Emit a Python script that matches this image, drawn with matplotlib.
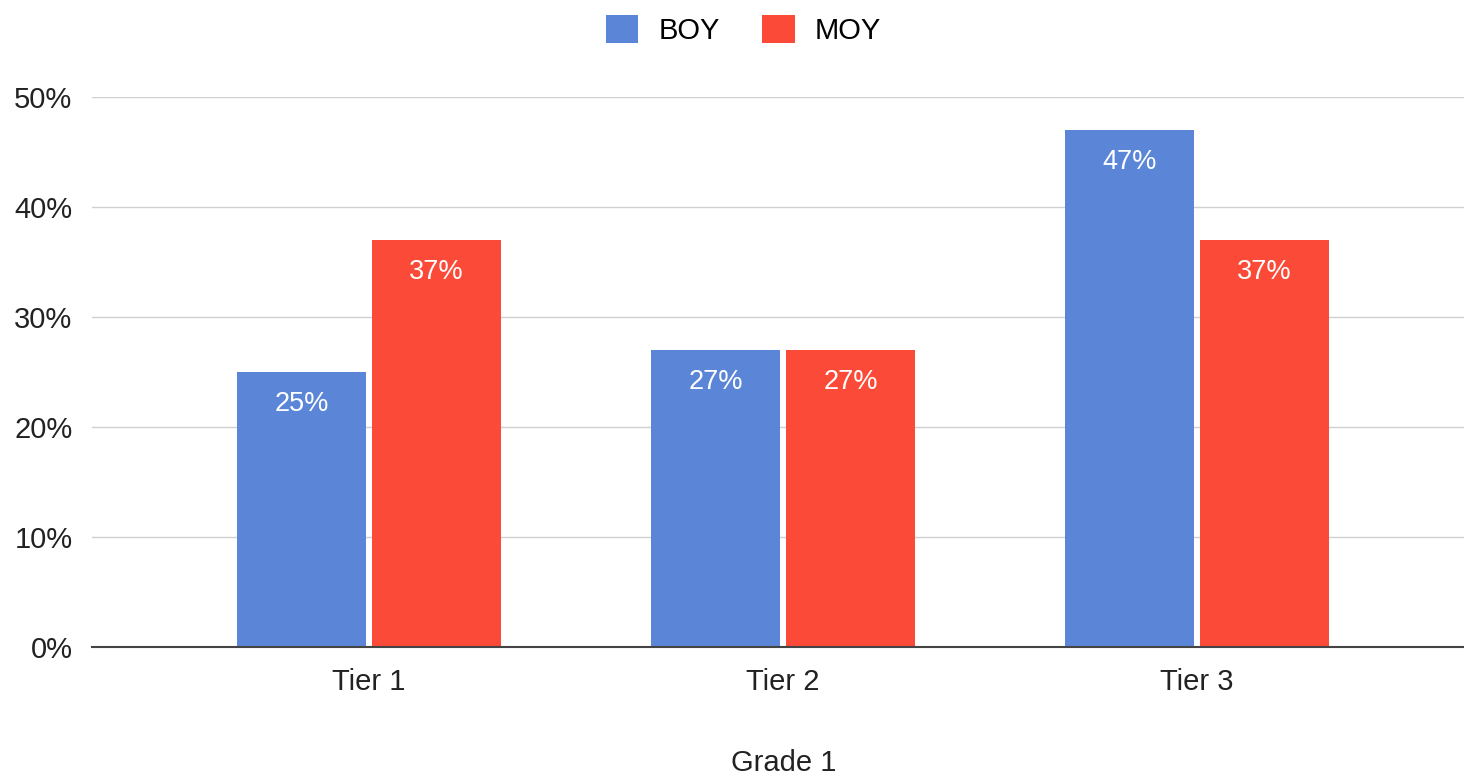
import matplotlib.pyplot as plt
import numpy as np

# Data
tiers = ["Tier 1", "Tier 2", "Tier 3"]
boy = [25, 27, 47]
moy = [37, 27, 37]
series_names = ["BOY", "MOY"]
yticks = [0, 10, 20, 30, 40, 50]

plt.rcParams['font.family'] = ['Liberation Sans', 'DejaVu Sans']

blue = "#5b86d8"
red = "#fb4a37"

fig = plt.figure(figsize=(14.64, 7.8), dpi=100)
ax = fig.add_axes([0.0628, 0.1705, 0.9372, 0.7051])

x = np.arange(len(tiers))
w = 0.31
off = 0.163
b1 = ax.bar(x - off, boy, w, color=blue, label=series_names[0], zorder=3)
b2 = ax.bar(x + off, moy, w, color=red, label=series_names[1], zorder=3)

# labels inside bar tops
for bars, vals in [(b1, boy), (b2, moy)]:
    for rect, v in zip(bars, vals):
        ax.text(rect.get_x() + rect.get_width() / 2, v - 2.9, f"{v}%",
                ha="center", va="center", color="white", fontsize=19.5, zorder=4)

ax.set_xlim(-0.669, 2.645)
ax.set_ylim(0, 50)
ax.set_yticks(yticks)
ax.set_yticklabels([f"{t}%" for t in yticks], fontsize=21, color="#222222")
ax.set_xticks(x)
ax.set_xticklabels(tiers, fontsize=21, color="#222222")
ax.tick_params(axis='y', length=0, pad=14)
ax.tick_params(axis='x', length=0, pad=15)

ax.grid(axis='y', color="#d0d0d0", linewidth=1, zorder=0)
for s in ["top", "right", "left"]:
    ax.spines[s].set_visible(False)
ax.spines["bottom"].set_color("#444444")
ax.spines["bottom"].set_linewidth(1.5)
ax.spines["bottom"].set_zorder(5)

fig.text(0.535, 0.022, "Grade 1", fontsize=21, color="#222222", ha="center", va="center")

fig.legend(loc="center", bbox_to_anchor=(0.508, 0.962), ncol=2, frameon=False,
           fontsize=21, handlelength=1.1, handleheight=1.1, columnspacing=1.45,
           handletextpad=0.7)

fig.savefig("out.png", dpi=100)
